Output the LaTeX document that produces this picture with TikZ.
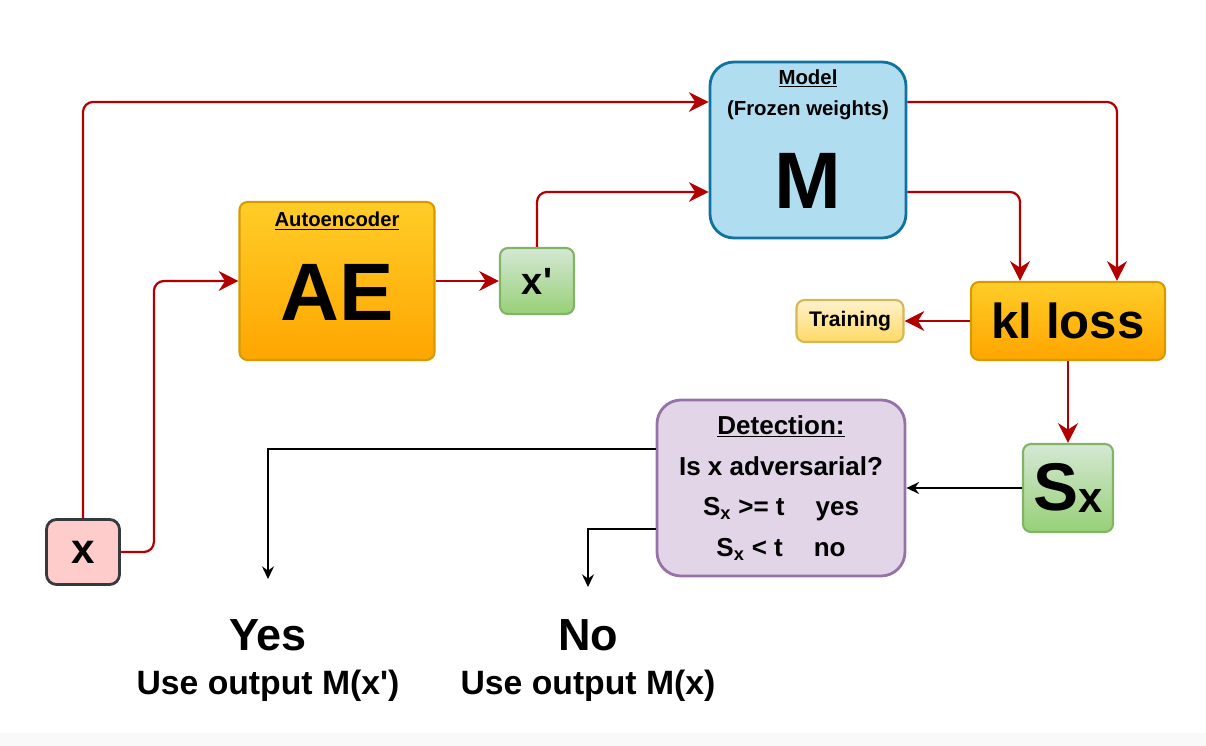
\documentclass[tikz,border=0pt]{standalone}
\usepackage{fontspec}
\setmainfont{Liberation Sans}
\usetikzlibrary{shapes.geometric, arrows.meta, positioning}
\definecolor{redArrow}{HTML}{B20000}
\definecolor{orangeTop}{HTML}{FFCD28}
\definecolor{orangeBot}{HTML}{FFA500}
\definecolor{orangeLine}{HTML}{D79B00}
\definecolor{greenTop}{HTML}{D5E8D4}
\definecolor{greenBot}{HTML}{97D077}
\definecolor{greenLine}{HTML}{82B366}
\definecolor{yellowTop}{HTML}{FFF2CC}
\definecolor{yellowBot}{HTML}{FFD966}
\definecolor{yellowLine}{HTML}{D6B656}
\definecolor{blueFill}{HTML}{B1DDF0}
\definecolor{blueLine}{HTML}{10739E}
\definecolor{purpleFill}{HTML}{E1D5E7}
\definecolor{purpleLine}{HTML}{9673A6}
\definecolor{pinkFill}{HTML}{FFCCCC}
\definecolor{pinkLine}{HTML}{36393D}
\newcommand{\fs}[1]{\bfseries\fontsize{#1}{1.2\dimexpr #1pt\relax}\selectfont}
\tikzstyle{recNode} = [rectangle, text centered, rounded corners=0.2cm, line width=1.5pt, inner sep=0pt]
\tikzstyle{recNodeO} = [recNode, draw=orangeLine, top color=orangeTop, bottom color=orangeBot]
\tikzstyle{recNodeG} = [recNode, draw=greenLine, top color=greenTop, bottom color=greenBot]
\tikzstyle{recNodeY} = [recNode, draw=yellowLine, top color=yellowTop, bottom color=yellowBot]
\tikzstyle{recNodeR} = [recNode, draw=pinkLine, fill=pinkFill, line width=2pt, rounded corners=0.25cm]
\tikzstyle{recNodeB} = [recNode, draw=blueLine, fill=blueFill, line width=2pt, rounded corners=0.6cm]
\tikzstyle{recNodeP} = [recNode, draw=purpleLine, fill=purpleFill, line width=2pt, rounded corners=0.6cm]
\tikzstyle{eNode} = [inner sep=0pt, text centered]
\tikzstyle{arrowR} = [line width=1.6pt, -{Stealth[length=14pt,width=14pt,inset=4.5pt]}, draw=redArrow, rounded corners=0.25cm]
\tikzstyle{arrowK} = [line width=1.2pt, -{Stealth[length=9pt,width=8.5pt,inset=3pt]}, draw=black]
\begin{document}
\begin{tikzpicture}[node distance=5cm]
    \useasboundingbox (0,0) rectangle (30.15,18.65);
    \fill [gray!5] (0,0) rectangle (30.15,0.325);

    % boxes
    \node (model) [recNodeB, minimum width=4.9cm, minimum height=4.4cm] at (20.2,14.9) {};
    \node (ae) [recNodeO, minimum width=4.875cm, minimum height=3.95cm] at (8.425,11.625) {};
    \node (xp) [recNodeG, right of=ae, minimum width=1.85cm, minimum height=1.65cm, font=\fs{27}] {x\textquotesingle};
    \node (xn) [recNodeR, minimum width=1.825cm, minimum height=1.625cm, font=\fs{30}] at (2.075,4.85) {x};
    \node (kl) [recNodeO, minimum width=4.85cm, minimum height=1.95cm, font=\fs{35}] at (26.7,10.625) {kl loss};
    \node (train) [recNodeY, left of=kl, xshift=-0.45cm, minimum width=2.675cm, minimum height=1.05cm, font=\fs{15}] {Training};
    \node (sx) [recNodeG, below of=kl, yshift=0.825cm, minimum width=2.25cm, minimum height=2.2cm, font=\fs{48}] {S\raisebox{-2pt}{\fs{31}x}};
    \node (det) [recNodeP, left of=sx, xshift=-2.175cm, minimum width=6.2cm, minimum height=4.4cm, align=center, font=\bfseries\fontsize{18.5}{29}\selectfont] {\underline{Detection:}\\ Is x adversarial?\\ S\textsubscript{x} >= t\hspace{22pt}yes\\ S\textsubscript{x} < t\hspace{22pt}no};

    % texts in boxes
    \node (modelTitle) [eNode, font=\fs{14.5}] at ([yshift=-0.45cm]model.north) {\underline{Model}};
    \node (modelNote) [eNode, font=\fs{14.5}] at ([yshift=-1.25cm]model.north) {(Frozen weights)};
    \node (modelTxt) [eNode, font=\fs{57}] at ([yshift=-0.775cm]model.center) {M};
    \node (aeTitle) [eNode, font=\fs{14.4}] at ([yshift=-0.5cm]ae.north) {\underline{Autoencoder}};
    \node (aeTxt) [eNode, font=\fs{58}] at ([yshift=-0.275cm]ae.center) {AE};

    % results
    \node (yes) [eNode, font=\fs{32}] at (6.7,2.775) {Yes};
    \node (yesUse) [eNode, below of=yes, node distance=1.275cm, font=\fs{24}] {Use output M(x\textquotesingle)};
    \node (no) [eNode, font=\fs{32}] at (14.7,2.775) {No};
    \node (noUse) [eNode, below of=no, node distance=1.275cm, font=\fs{24}] {Use output M(x)};

    \draw [arrowR] (xn.north) |- ([yshift=1.2cm]model.west);
    \draw [arrowR] (xn.east) -- ++(0.825,0) |- (ae.west);
    \draw [arrowR] (ae) -- (xp);
    \draw [arrowR] (xp.north) |- ([yshift=-1.05cm]model.west);
    \draw [arrowR] ([yshift=1.2cm]model.east) -| ([xshift=1.225cm]kl.north);
    \draw [arrowR] ([yshift=-1.05cm]model.east) -| ([xshift=-1.2cm]kl.north);
    \draw [arrowR] (kl) -- (train);
    \draw [arrowR] (kl) -- (sx);
    \draw [arrowK] (sx) -- (det);
    \draw [arrowK, shorten >=1.0cm] ([yshift=0.975cm]det.west) -| (yes.north);
    \draw [arrowK, shorten >=0.8cm] ([yshift=-1.025cm]det.west) -| (no.north);
\end{tikzpicture}
\end{document}
